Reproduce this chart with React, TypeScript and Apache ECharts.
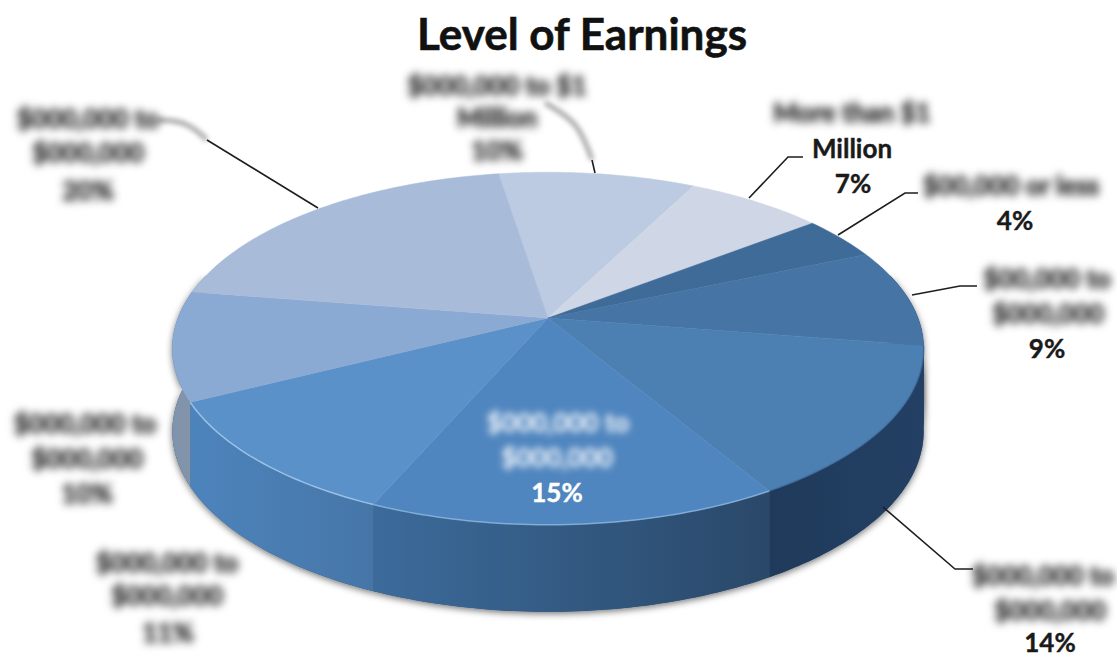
import React, { useEffect, useRef } from "react";
import * as echarts from "echarts";

// Slice order runs clockwise from the top of the pie.
// The dollar ranges are blurred in the reference: masked digits stand in for them.
const categories = ["$000,000 to $1 Million", "More than $1 Million", "$00,000 or less", "$00,000 to $000,000", "$000,000 to $000,000 (14%)", "$000,000 to $000,000 (15%)", "$000,000 to $000,000 (11%)", "$000,000 to $000,000 (10%)", "$000,000 to $000,000 (20%)"];
const values = [10, 7, 4, 9, 14, 15, 11, 10, 20];
const topColors = ["#bccbe1", "#cfd7e7", "#3f6b99", "#4675a5", "#4c7fb2", "#5086bf", "#5a91c9", "#8aa9d3", "#a8bcda"];
const wallFrom = ["#20395a", "#20395a", "#20395a", "#20395a", "#1f3a5a", "#2a4869", "#4676a8", "#8494a8", "#8494a8"];
const wallTo = ["#20395a", "#20395a", "#20395a", "#20395a", "#234064", "#3c6b9b", "#4d84bc", "#7f93ad", "#8494a8"];
const rimColors = ["", "", "", "", "rgba(60,100,150,0.6)", "rgba(150,190,230,0.7)", "rgba(170,205,240,0.8)", "", ""];

const GEOM = { cx: 548, cy: 318, rx: 370, ry: 171, k: 0.173, start: -9 };
const total = values.reduce((a, b) => a + b, 0);

function project(deg: number) {
  const a = (deg * Math.PI) / 180;
  const u = Math.sin(a);
  const v = -Math.cos(a);
  const w = 1 / (1 - GEOM.k * v);
  return { x: GEOM.cx + GEOM.rx * u * w, y: GEOM.cy + GEOM.ry * v * w, v };
}
const wallHeight = (v: number) => 82 + 5 * v;

function sliceRange(index: number) {
  let before = 0;
  for (let i = 0; i < index; i++) before += values[i];
  return [GEOM.start + (before / total) * 360, GEOM.start + ((before + values[index]) / total) * 360];
}
function arc(a0: number, a1: number) {
  const pts: { x: number; y: number; v: number }[] = [];
  const n = Math.max(2, Math.ceil(Math.abs(a1 - a0)));
  for (let i = 0; i <= n; i++) pts.push(project(a0 + ((a1 - a0) * i) / n));
  return pts;
}
function wallPoints(index: number) {
  const [a0, a1] = sliceRange(index);
  const lo = Math.max(a0, 75);
  const hi = Math.min(a1, 285);
  if (hi <= lo) return null;
  const top = arc(lo, hi);
  const bottom = top.slice().reverse().map((p) => [p.x, p.y + wallHeight(p.v)]);
  return { top, pts: top.map((p) => [p.x, p.y]).concat(bottom) };
}

const blurredDark = "#3a3a3b";
const blurredLight = "#eef3fa";
const clearDark = "#1a1a1a";
const LABEL = { size: 26 };
// [text, centre x, centre y, colour]
const labelLines: [string, number, number, string][] = [
  ["$000,000 to $1", 497, 85, blurredDark],
  ["Million", 497, 117, blurredDark],
  ["10%", 497, 150, blurredDark],
  ["$000,000 to", 88, 118, blurredDark],
  ["$000,000", 88, 152, blurredDark],
  ["20%", 88, 190, blurredDark],
  ["More than $1", 852, 112, blurredDark],
  ["Million", 852, 148, clearDark],
  ["7%", 853, 183, clearDark],
  ["$00,000 or less", 1011, 185, blurredDark],
  ["4%", 1015, 220, clearDark],
  ["$00,000 to", 1047, 278, blurredDark],
  ["$000,000", 1048, 313, blurredDark],
  ["9%", 1047, 348, clearDark],
  ["$000,000 to", 1043, 575, blurredDark],
  ["$000,000", 1050, 610, blurredDark],
  ["14%", 1050, 642, clearDark],
  ["$000,000 to", 558, 422, blurredLight],
  ["$000,000", 557, 457, blurredLight],
  ["15%", 557, 492, "#ffffff"],
  ["$000,000 to", 85, 423, blurredDark],
  ["$000,000", 87, 458, blurredDark],
  ["10%", 87, 493, blurredDark],
  ["$000,000 to", 167, 562, blurredDark],
  ["$000,000", 167, 595, blurredDark],
  ["11%", 168, 632, blurredDark],
];
const leaderLines: number[][][] = [
  [[207, 140], [318, 208]],
  [[592, 160], [595, 173]],
  [[749, 198], [788, 157], [803, 157]],
  [[838, 235], [905, 193], [918, 193]],
  [[912, 295], [960, 286], [977, 286]],
  [[883, 507], [955, 569], [973, 569]],
];
const fadedLeaders: number[][][] = [
  [[158, 120], [185, 124], [207, 140]],
  [[545, 103], [575, 125], [592, 160]],
];

export default function App() {
  const ref = useRef<HTMLDivElement>(null);
  useEffect(() => {
    const chart = echarts.init(ref.current!, undefined, { renderer: "svg" });
    const data = values.map((v, i) => ({ name: categories[i], value: v }));
    const wallItem = (withShadow: boolean) => (params: any) => {
      const i = params.dataIndex;
      const w = wallPoints(i);
      if (!w) return null;
      const xs = w.pts.map((p) => p[0]);
      const fill = new echarts.graphic.LinearGradient(Math.min(...xs), 0, Math.max(...xs), 0, [
        { offset: 0, color: wallTo[i] === wallFrom[i] ? wallFrom[i] : i >= 5 ? wallTo[i] : wallFrom[i] },
        { offset: 1, color: i >= 5 ? wallFrom[i] : wallTo[i] },
      ], true);
      return {
        type: "polygon",
        shape: { points: w.pts },
        style: withShadow
          ? { fill: "#33506f", shadowBlur: 7, shadowColor: "rgba(0,0,0,0.55)", shadowOffsetY: 2 }
          : { fill, stroke: wallFrom[i], lineWidth: 0 },
      };
    };
    chart.setOption({
      animation: false,
      backgroundColor: "#ffffff",
      title: {
        text: "Level of Earnings",
        left: 577,
        top: 6,
        textAlign: "center",
        textStyle: { fontFamily: "Lato", fontWeight: "bold", fontSize: 44, color: "#111111", textBorderColor: "#111111", textBorderWidth: 0.6 },
      },
      series: [
        { type: "custom", coordinateSystem: "none", data, silent: true, z: 1, renderItem: wallItem(true) },
        { type: "custom", coordinateSystem: "none", data, silent: true, z: 2, renderItem: wallItem(false) },
        {
          type: "custom",
          coordinateSystem: "none",
          data,
          silent: true,
          z: 3,
          renderItem: (params: any) => {
            const i = params.dataIndex;
            const [a0, a1] = sliceRange(i);
            const rim = arc(a0, a1);
            const children: any[] = [
              {
                type: "polygon",
                shape: { points: [[GEOM.cx, GEOM.cy], ...rim.map((p) => [p.x, p.y])] },
                style: { fill: topColors[i], stroke: topColors[i], lineWidth: 0.5 },
              },
            ];
            if (rimColors[i]) {
              children.push({
                type: "polyline",
                shape: { points: rim.map((p) => [p.x, p.y]) },
                style: { fill: "none", stroke: rimColors[i], lineWidth: 1.5 },
              });
            }
            return { type: "group", children };
          },
        },
      ],
      graphic: {
        elements: [
          ...fadedLeaders.map((points) => ({
            type: "polyline",
            z: 10,
            shape: { points, smooth: 0.4 },
            style: { fill: "none", stroke: "#a9a9aa", lineWidth: 5 },
          })),
          ...leaderLines.map((points) => ({
            type: "polyline",
            z: 10,
            shape: { points },
            style: { fill: "none", stroke: "#1e1e1e", lineWidth: 1.6 },
          })),
          ...labelLines.map(([text, x, y, fill]) => ({
            type: "text",
            z: 11,
            x,
            y,
            style: {
              text,
              fill,
              stroke: fill,
              lineWidth: fill === blurredDark ? 1.2 : 0.4,
              font: `bold ${LABEL.size}px Lato`,
              align: "center",
              verticalAlign: "middle",
            },
          })),
        ],
      },
    });
    return () => chart.dispose();
  }, []);
  return (
    <>
      <style>{`
        html, body { margin: 0; padding: 0; background: #fff; }
        svg text[fill="${blurredDark}"] { filter: blur(4.4px); }
        svg text[fill="${blurredLight}"] { filter: blur(3.8px); }
        svg path[stroke="#a9a9aa"] { filter: blur(2.5px); }
      `}</style>
      <div ref={ref} style={{ width: 1117, height: 658 }} />
    </>
  );
}
